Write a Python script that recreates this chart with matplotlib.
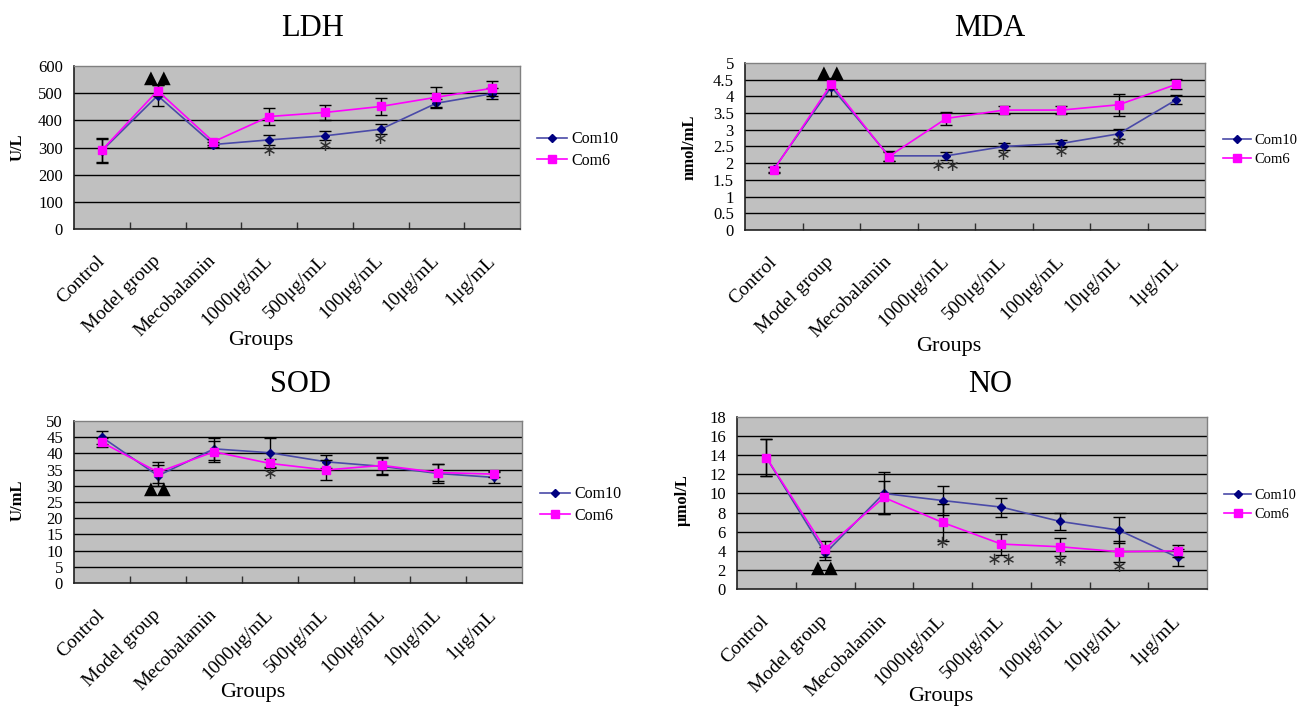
import matplotlib
matplotlib.use("Agg")
import matplotlib.pyplot as plt
from matplotlib.lines import Line2D
import numpy as np

# ---------------- data ----------------
categories = ['Control', 'Model group', 'Mecobalamin', '1000μg/mL',
              '500μg/mL', '100μg/mL', '10μg/mL', '1μg/mL']
series_names = ['Com10', 'Com6']

ldh_com10 = [288, 491, 311, 328, 343, 367, 463, 498]
ldh_com10_err = [45, 38, 10, 19, 16, 19, 17, 20]
ldh_com6 = [290, 509, 321, 414, 429, 451, 485, 518]
ldh_com6_err = [45, 20, 12, 30, 28, 33, 37, 27]

mda_com10 = [1.82, 4.28, 2.22, 2.22, 2.50, 2.59, 2.88, 3.90]
mda_com10_err = [0.08, 0.28, 0.14, 0.12, 0.10, 0.10, 0.15, 0.13]
mda_com6 = [1.80, 4.37, 2.20, 3.34, 3.59, 3.59, 3.75, 4.36]
mda_com6_err = [0.08, 0.15, 0.14, 0.20, 0.11, 0.11, 0.33, 0.15]

sod_com10 = [45.0, 33.1, 41.4, 40.2, 37.4, 36.0, 33.8, 32.6]
sod_com10_err = [2.0, 3.2, 3.3, 4.5, 2.0, 2.7, 2.8, 1.8]
sod_com6 = [43.4, 34.2, 40.5, 36.9, 34.9, 36.3, 34.1, 33.6]
sod_com6_err = [1.5, 3.2, 3.2, 1.5, 3.1, 2.6, 2.6, 1.0]

no_com10 = [13.75, 3.73, 10.0, 9.26, 8.57, 7.07, 6.16, 3.31]
no_com10_err = [1.95, 0.7, 2.2, 1.5, 1.0, 0.85, 1.35, 0.87]
no_com6 = [13.75, 4.21, 9.58, 6.96, 4.70, 4.42, 3.90, 4.0]
no_com6_err = [1.9, 0.85, 1.7, 1.9, 1.1, 0.95, 1.1, 0.63]

# significance marks: (category index, y value, text)
ldh_marks = [(1, 555, '▲▲'), (3, 288, '*'), (4, 304, '*'), (5, 331, '*')]
mda_marks = [(1, 4.72, '▲▲'), (3, 1.91, '**'), (4, 2.26, '*'), (5, 2.34, '*'), (6, 2.63, '*')]
sod_marks = [(1, 29.0, '▲▲'), (3, 33.6, '*')]
no_marks = [(1, 2.23, '▲▲'), (3, 4.77, '*'), (4, 3.03, '**'), (5, 2.89, '*'), (6, 2.26, '*')]

# ---------------- style ----------------
W, H = 1302, 708
SERIF = ['Liberation Serif', 'DejaVu Serif']
plt.rcParams['font.family'] = SERIF
BLUE_LINE = '#4a4aa8'
BLUE_MK = '#000080'
MAGENTA = '#ff00ff'
BG = '#c0c0c0'

fig = plt.figure(figsize=(W / 100, H / 100), dpi=100)


def rect(l, t, r, b):
    return [l / W, 1 - b / H, (r - l) / W, (b - t) / H]


panels = [
    dict(title='LDH', box=(74, 66, 520, 229), ymax=600, ystep=100,
         s10=ldh_com10, e10=ldh_com10_err, s6=ldh_com6, e6=ldh_com6_err,
         marks=ldh_marks, ylabel='U/L', ylab_xy=(18, 147), title_xy=(313, 28),
         groups_xy=(261, 340), legend_xy=(537, 150), legfs=11.5),
    dict(title='MDA', box=(745, 63, 1205, 230), ymax=5, ystep=0.5,
         s10=mda_com10, e10=mda_com10_err, s6=mda_com6, e6=mda_com6_err,
         marks=mda_marks, ylabel='nmol/mL', ylab_xy=(690, 147), title_xy=(990, 28),
         groups_xy=(949, 347), legend_xy=(1223, 150), legfs=10.5),
    dict(title='SOD', box=(74, 421, 522, 583), ymax=50, ystep=5,
         s10=sod_com10, e10=sod_com10_err, s6=sod_com6, e6=sod_com6_err,
         marks=sod_marks, ylabel='U/mL', ylab_xy=(18, 500), title_xy=(300, 385),
         groups_xy=(253, 693), legend_xy=(540, 505), legfs=11.5),
    dict(title='NO', box=(737, 417, 1207, 589), ymax=18, ystep=2,
         s10=no_com10, e10=no_com10_err, s6=no_com6, e6=no_com6_err,
         marks=no_marks, ylabel='μmol/L', ylab_xy=(683, 500), title_xy=(990, 385),
         groups_xy=(941, 697), legend_xy=(1224, 505), legfs=10.3),
]

x = np.arange(len(categories))

for p in panels:
    ax = fig.add_axes(rect(*p['box']))
    ax.set_facecolor(BG)
    ax.set_xlim(-0.5, len(categories) - 0.5)
    ax.set_ylim(0, p['ymax'])
    yt = np.arange(0, p['ymax'] + p['ystep'] / 2, p['ystep'])
    ax.set_yticks(yt)
    ax.set_yticklabels(['{:g}'.format(round(v, 2)) for v in yt], fontsize=12)
    ax.tick_params(axis='y', length=0, pad=8)
    for v in yt[1:-1]:
        ax.axhline(v, color='black', lw=1.0, zorder=1)
    ax.set_xticks(x)
    ax.set_xticklabels(categories, rotation=45, ha='right', va='center',
                       rotation_mode='anchor', fontsize=14)
    ax.tick_params(axis='x', which='major', length=0, pad=21)
    ax.set_xticks(np.arange(0.5, len(categories) - 1, 1.0), minor=True)
    ax.tick_params(axis='x', which='minor', direction='in', length=5,
                   width=1, color='#303030')
    for s in ['left', 'bottom']:
        ax.spines[s].set_color('#202020')
        ax.spines[s].set_linewidth(1.2)
    for s in ['top', 'right']:
        ax.spines[s].set_color('#808080')
        ax.spines[s].set_linewidth(1.0)

    ax.errorbar(x, p['s10'], yerr=p['e10'], color=BLUE_LINE, lw=1.2,
                marker='D', markersize=4.5, markerfacecolor=BLUE_MK,
                markeredgecolor=BLUE_MK, ecolor='black', elinewidth=1,
                capsize=4, capthick=1, zorder=3)
    ax.errorbar(x, p['s6'], yerr=p['e6'], color=MAGENTA, lw=1.2,
                marker='s', markersize=6, markerfacecolor=MAGENTA,
                markeredgecolor=MAGENTA, ecolor='black', elinewidth=1,
                capsize=4, capthick=1, zorder=4)

    for (ci, yv, txt) in p['marks']:
        if '▲' in txt:
            ax.text(ci, yv, txt, ha='center', va='center', fontsize=13,
                    family=['DejaVu Sans'], color='black', zorder=5)
        else:
            ax.text(ci, yv, txt.replace('*', '∗'), ha='center', va='center',
                    fontsize=13, family=['DejaVu Sans'], color='#303030', zorder=5)

    fig.text(p['title_xy'][0] / W, 1 - p['title_xy'][1] / H, p['title'],
             ha='center', va='center', fontsize=22)
    fig.text(p['groups_xy'][0] / W, 1 - p['groups_xy'][1] / H, 'Groups',
             ha='center', va='center', fontsize=16)
    fig.text(p['ylab_xy'][0] / W, 1 - p['ylab_xy'][1] / H, p['ylabel'],
             ha='center', va='center', rotation=90, fontsize=12, fontweight='bold')

    handles = [Line2D([], [], color=BLUE_LINE, lw=1.2, marker='D', markersize=4.5,
                      markerfacecolor=BLUE_MK, markeredgecolor=BLUE_MK),
               Line2D([], [], color=MAGENTA, lw=1.2, marker='s', markersize=6,
                      markerfacecolor=MAGENTA, markeredgecolor=MAGENTA)]
    ax.legend(handles, series_names, loc='center left',
              bbox_to_anchor=(p['legend_xy'][0] / W, 1 - p['legend_xy'][1] / H),
              bbox_transform=fig.transFigure, frameon=False, fontsize=p['legfs'],
              handlelength=1.9, handletextpad=0.25, labelspacing=0.35, borderpad=0,
              borderaxespad=0)

fig.savefig('out.png', dpi=100, facecolor='white')
